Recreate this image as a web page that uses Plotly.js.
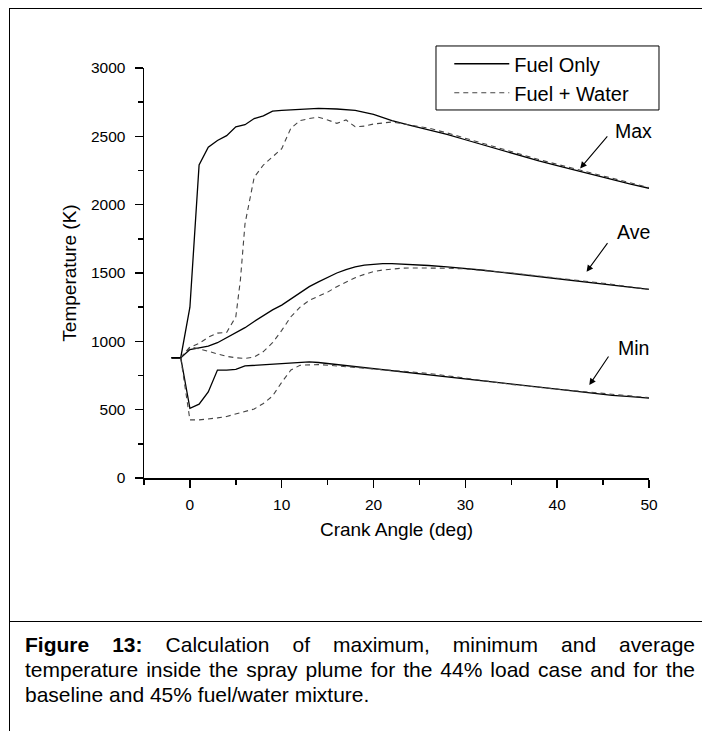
<!DOCTYPE html>
<html>
<head>
<meta charset="utf-8">
<script src="https://cdn.plot.ly/plotly-3.0.1.min.js"></script>
<style>
  html, body { margin:0; padding:0; background:#fff; }
  #wrap { position:relative; width:702px; height:731px; overflow:hidden; }
  #chart { position:absolute; left:0; top:0; width:702px; height:731px; }
  .frame { position:absolute; background:#000; }
  .cap { position:absolute; left:25px; width:670px; font-family:"Liberation Sans", Arial, sans-serif;
    font-size:21px; line-height:25px; height:25px; color:#000; white-space:nowrap; overflow:visible; }
  .just { text-align:justify; text-align-last:justify; white-space:normal; }
</style>
</head>
<body>
<div id="wrap">
  <div id="chart"></div>
  <div class="frame" style="left:9px; top:8px; width:693px; height:1px;"></div>
  <div class="frame" style="left:9px; top:8px; width:1px; height:723px;"></div>
  <div class="frame" style="left:9px; top:621px; width:693px; height:1px;"></div>
  <div class="cap just" style="top:632px;"><b>Figure 13:</b> Calculation of maximum, minimum and average</div>
  <div class="cap just" style="top:657px;">temperature inside the spray plume for the 44% load case and for the</div>
  <div class="cap" style="top:682px;">baseline and 45% fuel/water mixture.</div>
</div>
<script>
// Crank angle (deg) and temperature (K)
const foMaxX = [-2,-1,0,1,2,3,4,5,6,7,8,9,10,11,12,14,16,18,20,22,24,26,28,30,32,34,36,38,40,42,44,46,48,50];
const foMaxT = [880,880,1250,2290,2420,2470,2505,2570,2585,2630,2650,2685,2690,2695,2697,2705,2700,2690,2660,2615,2580,2550,2515,2475,2435,2395,2355,2320,2285,2250,2215,2185,2150,2120];

const fwMaxX = [-2,-1,0,1,2,3,4,5,5.5,6,7,8,9,10,11,12,13,14,15,16,17,18,19,20,22,24,26,28,30,32,34,36,38,40,42,44,46,48,50];
const fwMaxT = [880,880,955,985,1030,1060,1065,1180,1450,1860,2200,2290,2350,2410,2560,2615,2630,2640,2620,2595,2620,2570,2575,2590,2605,2580,2560,2525,2485,2445,2405,2365,2330,2295,2260,2225,2190,2155,2125];

const foAveX = [-2,-1,0,1,2,3,4,5,6,7,8,9,10,11,12,13,14,15,16,17,18,19,20,21,22,23,24,26,28,30,32,34,36,38,40,42,44,46,48,50];
const foAveT = [880,880,940,950,965,990,1025,1065,1100,1145,1190,1230,1265,1310,1355,1400,1435,1470,1500,1525,1545,1558,1565,1568,1568,1566,1563,1555,1545,1535,1520,1505,1490,1475,1460,1445,1430,1415,1395,1380];

const fwAveX = [-1,0,1,2,3,4,5,6,7,8,9,10,11,12,13,14,15,16,17,18,19,20,21,22,23,24,26,28,30,35,40,45,50];
const fwAveT = [880,960,945,925,905,890,880,875,885,925,990,1080,1180,1250,1300,1330,1360,1400,1435,1465,1490,1510,1522,1530,1535,1537,1538,1535,1530,1500,1462,1425,1380];

const foMinX = [-2,-1,0,1,2,3,4,5,6,8,10,12,13,14,16,18,20,22,24,26,28,30,32,34,36,38,40,42,44,46,48,50];
const foMinT = [880,880,510,540,630,790,790,795,820,830,840,848,850,845,830,815,800,785,770,755,735,720,705,690,675,660,645,630,618,605,595,585];

const fwMinX = [-1,0,1,2,3,4,5,6,7,8,9,10,11,12,13,14,16,18,20,22,24,26,28,30,35,40,45,50];
const fwMinT = [880,425,425,430,440,450,470,485,505,545,600,700,790,825,830,830,820,810,800,790,778,765,748,730,685,650,620,588];

const seriesNames = ["Fuel Only", "Fuel + Water"];
const curveLabels = ["Max", "Ave", "Min"];
// label positions and arrow (tail -> tip) in data units
const labelX = [48.3, 48.3, 48.3];
const labelY = [2540, 1800, 950];
const arrowTailX = [45.6, 45.6, 45.7];
const arrowTailY = [2510, 1729, 900];
const arrowTipX = [42.5, 43.2, 43.5];
const arrowTipY = [2265, 1509, 680];

const solid = {color:'#000', width:1.3};
const dashed = {color:'#444', width:1.1, dash:'5px,4px'};

const traces = [
  {x:foMaxX, y:foMaxT, mode:'lines', line:solid, name:seriesNames[0], legendgroup:'fo', showlegend:true},
  {x:fwMaxX, y:fwMaxT, mode:'lines', line:dashed, name:seriesNames[1], legendgroup:'fw', showlegend:true},
  {x:foAveX, y:foAveT, mode:'lines', line:solid, name:seriesNames[0], legendgroup:'fo', showlegend:false},
  {x:fwAveX, y:fwAveT, mode:'lines', line:dashed, name:seriesNames[1], legendgroup:'fw', showlegend:false},
  {x:foMinX, y:foMinT, mode:'lines', line:solid, name:seriesNames[0], legendgroup:'fo', showlegend:false},
  {x:fwMinX, y:fwMinT, mode:'lines', line:dashed, name:seriesNames[1], legendgroup:'fw', showlegend:false}
];

const font = "Liberation Sans, Arial, sans-serif";
const annotations = [];
for (let i = 0; i < curveLabels.length; i++) {
  annotations.push({x:labelX[i], y:labelY[i], xref:'x', yref:'y', text:curveLabels[i], showarrow:false,
    font:{family:font, size:19.5, color:'#000'}, xanchor:'center', yanchor:'middle'});
  annotations.push({x:arrowTipX[i], y:arrowTipY[i], ax:arrowTailX[i], ay:arrowTailY[i], xref:'x', yref:'y',
    axref:'x', ayref:'y', text:'', showarrow:true, arrowhead:2, arrowsize:1.2, arrowwidth:1.1, arrowcolor:'#000'});
}

const layout = {
  width:702, height:731,
  margin:{l:144, r:53, t:68, b:253},
  paper_bgcolor:'rgba(0,0,0,0)', plot_bgcolor:'rgba(0,0,0,0)',
  font:{family:font, color:'#000'},
  showlegend:true,
  legend:{x:0.6045, xanchor:'left', y:0.975, yanchor:'middle', borderwidth:0, bgcolor:'rgba(0,0,0,0)',
    font:{family:font, size:20, color:'#000'}, itemwidth:55, tracegroupgap:0},
  shapes:[{type:'rect', xref:'paper', yref:'paper', x0:0.5782, x1:1.0198, y0:0.8976, y1:1.0537,
    line:{color:'#000', width:1}, fillcolor:'#fff', layer:'below'}],
  xaxis:{range:[-5,50], tickmode:'array', tickvals:[0,10,20,30,40,50], ticks:'outside', ticklen:8, tickwidth:1.5,
    tickcolor:'#000', showline:true, linecolor:'#000', linewidth:1.5, showgrid:false, zeroline:false,
    tickfont:{family:font, size:15.5}, ticklabelstandoff:4,
    minor:{tickmode:'linear', tick0:-5, dtick:5, ticks:'outside', ticklen:5, tickwidth:1.5, tickcolor:'#000', showgrid:false},
    title:{text:'Crank Angle (deg)', font:{family:font, size:19}, standoff:10}},
  yaxis:{range:[0,3000], tickmode:'linear', tick0:0, dtick:500, ticks:'outside', ticklen:8, tickwidth:1.5,
    tickcolor:'#000', showline:true, linecolor:'#000', linewidth:1.5, showgrid:false, zeroline:false,
    tickfont:{family:font, size:15.5}, ticklabelstandoff:6,
    minor:{tickmode:'linear', tick0:0, dtick:250, ticks:'outside', ticklen:5, tickwidth:1.5, tickcolor:'#000', showgrid:false},
    title:{text:'Temperature (K)', font:{family:font, size:19}, standoff:9}},
  annotations:annotations
};

Plotly.newPlot('chart', traces, layout, {displayModeBar:false, staticPlot:true});
</script>
</body>
</html>
